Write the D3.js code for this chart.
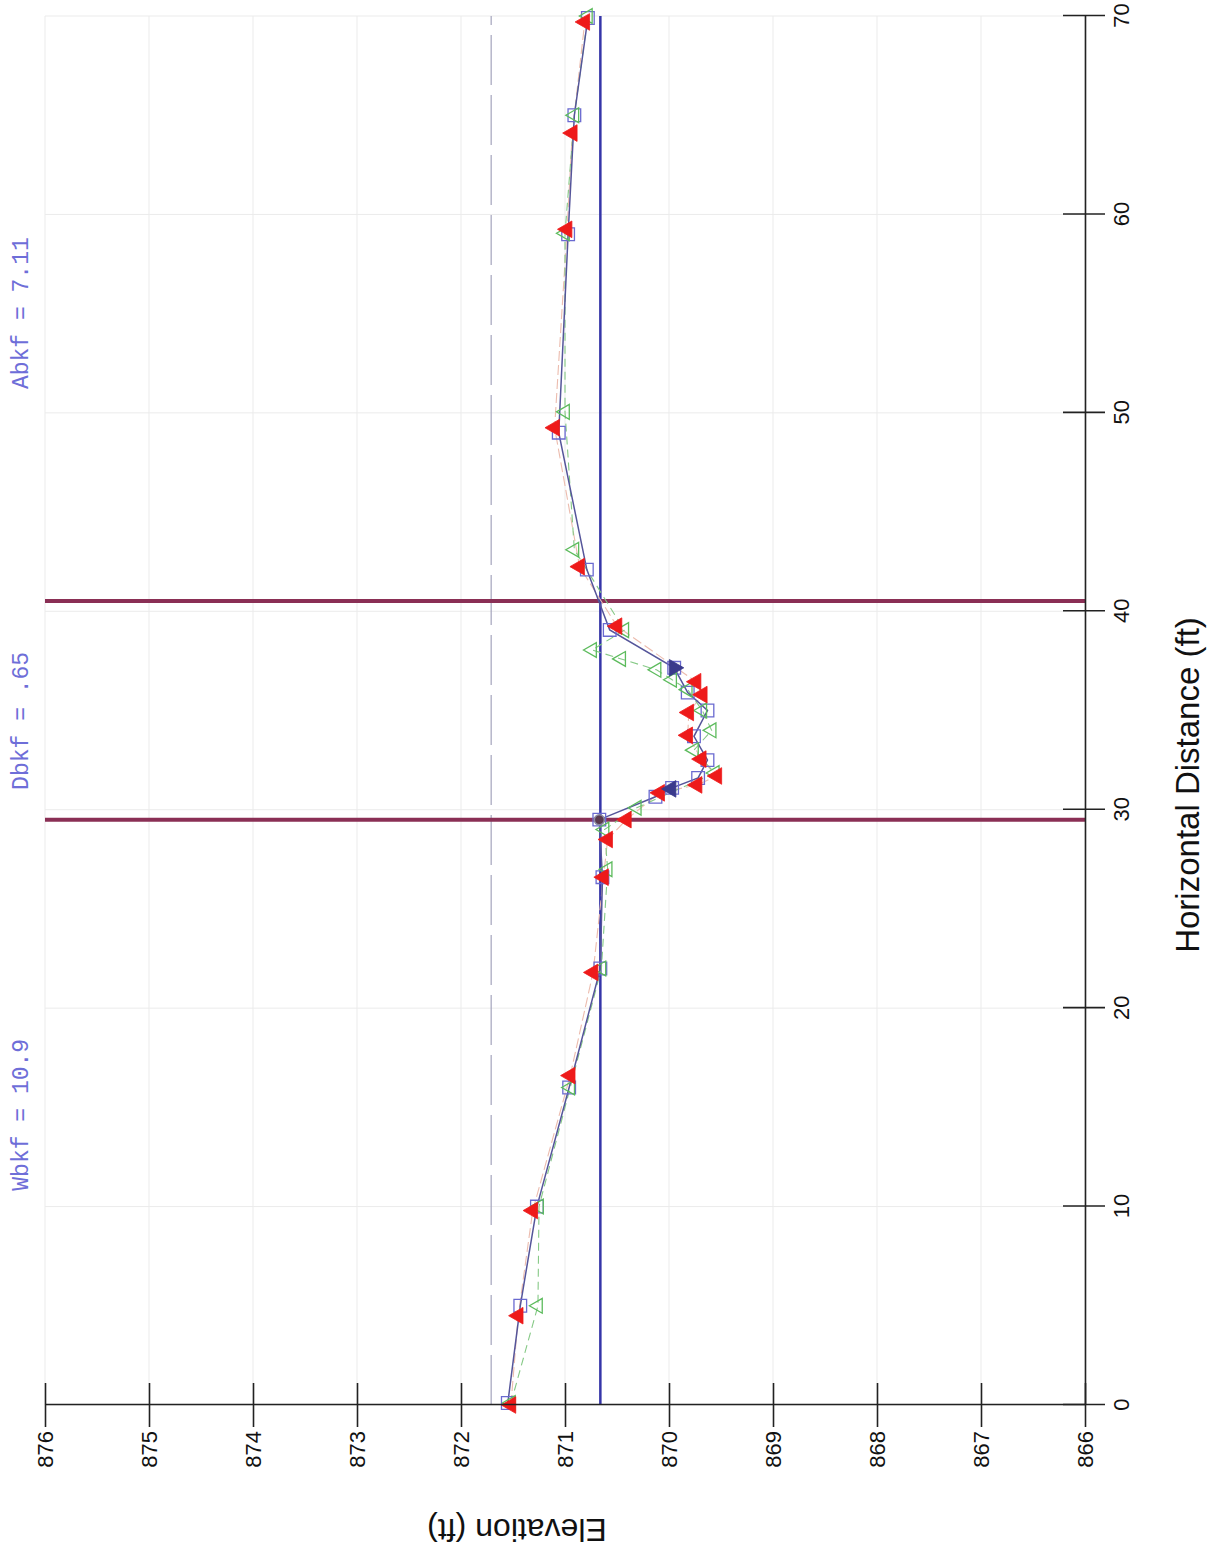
<!DOCTYPE html>
<html>
<head>
<meta charset="utf-8">
<script src="https://cdn.jsdelivr.net/npm/d3@7/dist/d3.min.js"></script>
<style>
  html, body { margin: 0; padding: 0; background: #fff; }
  svg { display: block; }
</style>
</head>
<body>
<svg id="chart"></svg>
<script>
// ---- Data ----
const distTicks = [0, 10, 20, 30, 40, 50, 60, 70];
const elevTicks = [866, 867, 868, 869, 870, 871, 872, 873, 874, 875, 876];

// Survey 1 (blue open squares, solid line)
const blueDist = [0.1, 5.0, 10.0, 16.0, 22.0, 26.6, 29.5, 30.65, 31.1, 31.6, 32.5, 33.7, 35.0, 35.9, 37.15, 39.06, 42.1, 49.0, 59.0, 65.0, 69.9];
const blueElev = [871.55, 871.43, 871.27, 870.96, 870.66, 870.64, 870.67, 870.13, 869.97, 869.72, 869.63, 869.76, 869.63, 869.82, 869.95, 870.57, 870.79, 871.06, 870.97, 870.91, 870.78];

// Survey 2 (green open triangles, dashed line)
const greenDist = [0.1, 5.0, 10.0, 16.0, 22.0, 27.0, 29.0, 30.1, 31.85, 33.0, 34.0, 35.0, 36.05, 36.55, 37.05, 37.6, 38.05, 39.05, 43.1, 50.05, 59.05, 65.0, 70.0];
const greenElev = [871.52, 871.26, 871.25, 870.95, 870.65, 870.59, 870.62, 870.31, 869.56, 869.76, 869.59, 869.68, 869.82, 869.97, 870.12, 870.46, 870.74, 870.43, 870.91, 871.00, 871.00, 870.91, 870.78];

// Survey 3 (red filled triangles, thin line)
const redDist = [0, 4.5, 9.8, 16.6, 21.8, 26.6, 28.5, 29.5, 30.85, 31.25, 31.7, 32.55, 33.75, 34.9, 35.8, 36.45, 39.25, 42.25, 49.25, 59.25, 64.1, 69.7];
const redElev = [871.52, 871.45, 871.31, 870.95, 870.73, 870.63, 870.59, 870.41, 870.09, 869.73, 869.54, 869.69, 869.82, 869.81, 869.68, 869.74, 870.50, 870.86, 871.10, 870.98, 870.93, 870.81];

// Special markers
const navyDist = [31.05, 37.15];
const navyElev = [869.98, 869.95];
const navyRot = [0, 180];
const circleDist = [29.49];
const circleElev = [870.67];

// Reference lines
const bankfullElev = 870.66;
const floodproneElev = 871.71;
const bankDists = [29.49, 40.52];

// Annotations
const notes = ["Wbkf = 10.9", "Dbkf = .65", "Abkf = 7.11"];
const noteDist = [10.8, 31.0, 51.2];

// ---- Layout (drawn in the chart's own orientation, then rotated -90°) ----
const PW = 1216, PH = 1554;
const svg = d3.select("#chart").attr("width", PW).attr("height", PH);
const g = svg.append("g").attr("transform", `translate(0,${PH}) rotate(-90)`);

const x = d3.scaleLinear().domain([0, 70]).range([149, 1538]);
const y = d3.scaleLinear().domain([866, 876]).range([1085, 45]);

const sans = "'Liberation Sans', Arial, Helvetica, sans-serif";
const mono = "'Liberation Mono', 'Courier New', monospace";

// Grid
g.append("g").selectAll("line").data(distTicks).join("line")
  .attr("x1", d => x(d)).attr("x2", d => x(d))
  .attr("y1", y(866)).attr("y2", y(876))
  .attr("stroke", "#ebebeb").attr("stroke-width", 1);
g.append("g").selectAll("line").data(elevTicks).join("line")
  .attr("x1", x(0)).attr("x2", x(70))
  .attr("y1", d => y(d)).attr("y2", d => y(d))
  .attr("stroke", "#ebebeb").attr("stroke-width", 1);

// Flood-prone dashed line
g.append("line")
  .attr("x1", x(0)).attr("x2", x(70))
  .attr("y1", y(floodproneElev)).attr("y2", y(floodproneElev))
  .attr("stroke", "#a4a4bc").attr("stroke-width", 1.2)
  .attr("stroke-dasharray", "50,10");

// Bank lines (maroon)
g.append("g").selectAll("line").data(bankDists).join("line")
  .attr("x1", d => x(d)).attr("x2", d => x(d))
  .attr("y1", y(866)).attr("y2", y(876))
  .attr("stroke", "#8a2f55").attr("stroke-width", 4);

// Bankfull line
g.append("line")
  .attr("x1", x(0)).attr("x2", x(70))
  .attr("y1", y(bankfullElev)).attr("y2", y(bankfullElev))
  .attr("stroke", "#3535a8").attr("stroke-width", 2.5);

// Series lines
const line = d3.line().x(d => x(d[0])).y(d => y(d[1]));
const zip = (a, b) => a.map((v, i) => [v, b[i]]);
const blueData = zip(blueDist, blueElev);
const greenData = zip(greenDist, greenElev);
const redData = zip(redDist, redElev);

g.append("path").datum(redData).attr("d", line)
  .attr("fill", "none").attr("stroke", "#ecbcae").attr("stroke-width", 1.1)
  .attr("stroke-dasharray", "10,4");
g.append("path").datum(greenData).attr("d", line)
  .attr("fill", "none").attr("stroke", "#86c986").attr("stroke-width", 1.1)
  .attr("stroke-dasharray", "8,5");
g.append("path").datum(blueData).attr("d", line)
  .attr("fill", "none").attr("stroke", "#55559a").attr("stroke-width", 1.5);

// Markers
const sq = d3.symbol().type(d3.symbolSquare).size(160);
const triG = d3.symbol().type(d3.symbolTriangle).size(95);
const triR = d3.symbol().type(d3.symbolTriangle).size(120);

g.append("g").selectAll("path").data(blueData).join("path")
  .attr("d", sq).attr("transform", d => `translate(${x(d[0])},${y(d[1])})`)
  .attr("fill", "none").attr("stroke", "#6a6ad0").attr("stroke-width", 1.3);
g.append("g").selectAll("path").data(greenData).join("path")
  .attr("d", triG).attr("transform", d => `translate(${x(d[0])},${y(d[1])})`)
  .attr("fill", "none").attr("stroke", "#5cbb5c").attr("stroke-width", 1.3);
g.append("g").selectAll("path").data(redData).join("path")
  .attr("d", triR).attr("transform", d => `translate(${x(d[0])},${y(d[1])})`)
  .attr("fill", "#ee1a1a").attr("stroke", "#ee1a1a").attr("stroke-width", 0.8);
g.append("g").selectAll("path").data(zip(navyDist, navyElev)).join("path")
  .attr("d", triR).attr("transform", (d, i) => `translate(${x(d[0])},${y(d[1])}) rotate(${navyRot[i]})`)
  .attr("fill", "#3a3a8c").attr("stroke", "#3a3a8c").attr("stroke-width", 0.8);
g.append("g").selectAll("circle").data(zip(circleDist, circleElev)).join("circle")
  .attr("cx", d => x(d[0])).attr("cy", d => y(d[1])).attr("r", 5)
  .attr("fill", "#5a3a4e").attr("stroke", "#8a8aa0").attr("stroke-width", 1.5);

// Axes
const xAxis = g.append("g").attr("transform", `translate(0,${y(866)})`)
  .call(d3.axisBottom(x).tickValues(distTicks).tickFormat(d3.format("d"))
    .tickSize(20).tickSizeOuter(0).tickPadding(8));
xAxis.selectAll(".tick line").attr("y1", -22).attr("y2", 20).attr("stroke", "#222").attr("stroke-width", 1.6);
xAxis.select(".domain").attr("stroke", "#222").attr("stroke-width", 1.6);
xAxis.selectAll("text").attr("font-family", sans).attr("font-size", 22).attr("fill", "#111");

const yAxis = g.append("g").attr("transform", `translate(${x(0)},0)`)
  .call(d3.axisLeft(y).tickValues(elevTicks).tickFormat(d3.format("d"))
    .tickSize(22).tickSizeOuter(0).tickPadding(4));
yAxis.selectAll(".tick line").attr("x1", -22).attr("x2", 22).attr("stroke", "#222").attr("stroke-width", 1.6);
yAxis.select(".domain").attr("stroke", "#222").attr("stroke-width", 1.6);
yAxis.selectAll("text").attr("font-family", sans).attr("font-size", 22).attr("fill", "#111");

// Axis titles
g.append("text")
  .attr("x", 769).attr("y", 1199)
  .attr("text-anchor", "middle")
  .attr("font-family", sans).attr("font-size", 33).attr("fill", "#111")
  .text("Horizontal Distance (ft)");
g.append("text")
  .attr("transform", "translate(35,517) rotate(-90)")
  .attr("text-anchor", "middle")
  .attr("font-family", sans).attr("font-size", 32).attr("fill", "#111")
  .text("Elevation (ft)");

// Annotations
g.append("g").selectAll("text").data(notes).join("text")
  .attr("x", (d, i) => x(noteDist[i])).attr("y", 28)
  .attr("font-family", mono).attr("font-size", 23).attr("fill", "#6e6ed8")
  .attr("xml:space", "preserve")
  .text(d => d);
</script>
</body>
</html>
